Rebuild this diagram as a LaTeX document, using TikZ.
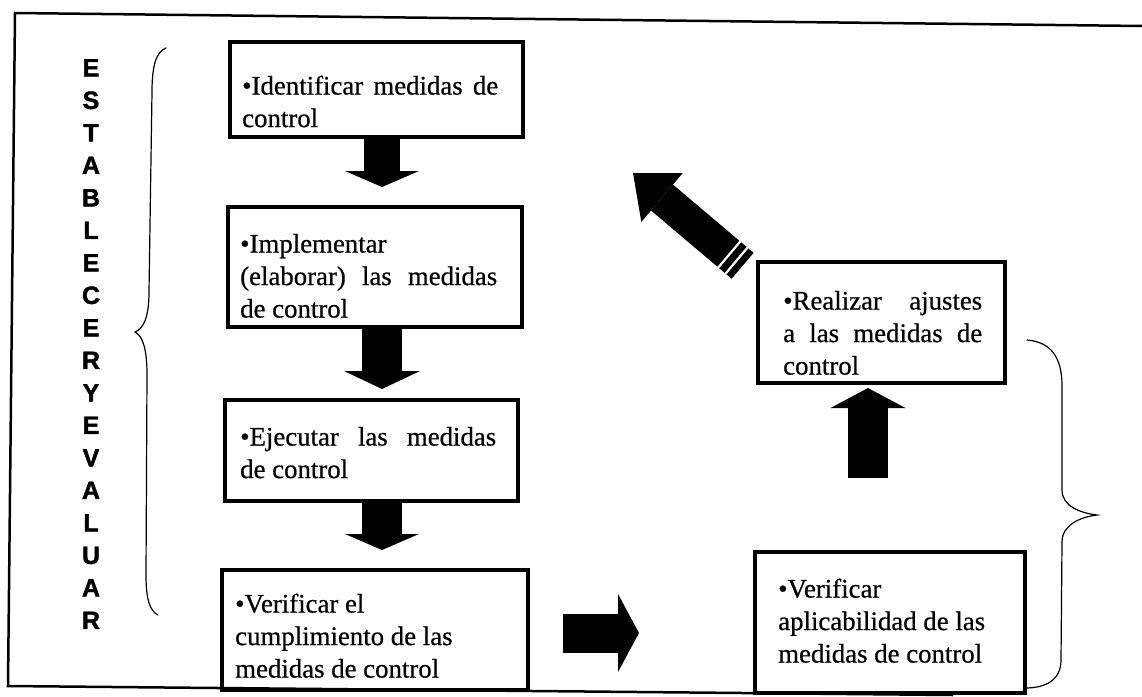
\documentclass[tikz,border=0pt]{standalone}
\usepackage{fontspec}
\setmainfont{Liberation Serif}[FakeBold=0.6]
\newfontfamily\lsans{Liberation Sans}[FakeBold=1.6]
\usetikzlibrary{arrows.meta,calc}
\tolerance=10000 \hbadness=10000
\begin{document}
\begin{tikzpicture}[x=1pt,y=-1pt,
  box/.style={draw, line width=4pt, inner sep=0pt, outer sep=0pt},
  txt/.style={inner sep=0pt, anchor=north west, align=justify, font=\fontsize{26.8}{32.5}\selectfont},
  brace/.style={line width=1.2pt, line cap=round},
  blk/.style n args={3}{line width=#1, -{Triangle[length=#2, width=#3, line width=0pt]}}
]
\useasboundingbox (0,0) rectangle (1142,696);
% frame
\draw[line width=2.5pt] (1142,26) -- (15,13) -- (8,686) -- (953,695);
% vertical title
\node[font=\lsans\bfseries\fontsize{25}{32.5}\selectfont, align=center, inner sep=0pt, anchor=north] (vt) at (91,59)
 {E\\S\\T\\A\\B\\L\\E\\C\\E\\R\\Y\\E\\V\\A\\L\\U\\A\\R};
% braces
\draw[brace] (166,48) .. controls (156,52) and (152,66) .. (152,92) -- (149,292)
  .. controls (149,318) and (143,329) .. (135,332)
  .. controls (143,336) and (147,350) .. (147,374) -- (146,575)
  .. controls (146,600) and (150,611) .. (158,615);
\draw[brace] (1027,340) .. controls (1050,342) and (1062,356) .. (1062,386) -- (1062,490)
  .. controls (1062,506) and (1080,513) .. (1097,515)
  .. controls (1080,517) and (1062,525) .. (1062,542) -- (1061,660)
  .. controls (1061,680) and (1046,688) .. (1025,688);
% boxes
\node[box, minimum width=293pt, minimum height=95pt] (b1) at (376.5,89.5) {};
\node[box, minimum width=294pt, minimum height=120pt] (b2) at (375,267) {};
\node[box, minimum width=293pt, minimum height=101pt] (b3) at (371.5,450.5) {};
\node[box, minimum width=306pt, minimum height=120pt] (b4) at (375,630) {};
\node[box, minimum width=247pt, minimum height=121pt] (b5) at (881.5,322.5) {};
\node[box, minimum width=270pt, minimum height=141pt] (b6) at (890,622.5) {};
% texts
\node[txt, text width=256pt] (t1) at (242,71.6) {\strut•Identificar medidas de\linebreak control};
\node[txt, text width=257pt] (t2) at (240,229.6) {\strut•Implementar\newline (elaborar) las medidas\linebreak de control};
\node[txt, text width=256pt] (t3) at (240,422.6) {\strut•Ejecutar las medidas\linebreak de control};
\node[txt, text width=280pt] (t4) at (235,589.6) {\strut•Verificar el\newline cumplimiento de las\newline medidas de control};
\node[txt, text width=199pt] (t5) at (783,286.6) {\strut•Realizar ajustes\linebreak a las medidas de\linebreak control};
\node[txt, text width=230pt] (t6) at (778,574.6) {\strut•Verificar\newline aplicabilidad de las\newline medidas de control};
% helper coordinates
\coordinate (ax) at (382,0);
\coordinate (ry) at (0,633);
\coordinate (ux) at (868,0);
\coordinate (dtail) at (742.6,265.8);
\coordinate (dtip) at (633,173);
% block arrows
\draw[blk={36pt}{16pt}{74pt}, shorten >=20pt] (b1.south -| ax) -- (b2.north -| ax);
\draw[blk={40pt}{18pt}{76pt}, shorten >=11pt] (b2.south -| ax) -- (b3.north -| ax);
\draw[blk={40pt}{16pt}{74pt}, shorten >=20pt] (b3.south -| ax) -- (b4.north -| ax);
\draw[blk={39pt}{21pt}{78pt}, shorten <=35pt, shorten >=116pt] (b4.east |- ry) -- (b6.west |- ry);
\draw[blk={40pt}{20pt}{75pt}, shorten <=74pt, shorten >=5pt] (b6.north -| ux) -- (b5.south -| ux);
\draw[blk={34pt}{38pt}{64pt}] (dtail) -- (dtip);
% stripes of the diagonal arrow
\coordinate (s1) at ($(dtail)!8pt!(dtip)$);
\coordinate (s2) at ($(dtail)!17.5pt!(dtip)$);
\draw[white, line width=2.2pt] ($(s1)!19pt!90:(dtip)$) -- ($(s1)!19pt!-90:(dtip)$);
\draw[white, line width=2.2pt] ($(s2)!19pt!90:(dtip)$) -- ($(s2)!19pt!-90:(dtip)$);
\end{tikzpicture}
\end{document}
